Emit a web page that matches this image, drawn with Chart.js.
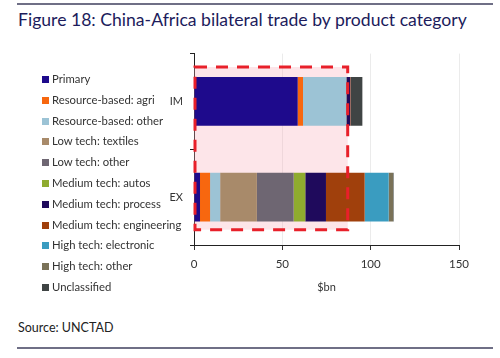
<!DOCTYPE html>
<html>
<head>
<meta charset="utf-8">
<script src="https://cdn.jsdelivr.net/npm/chart.js@4.4.1/dist/chart.umd.min.js"></script>
<style>
  body { margin: 0; background: #fff; width: 500px; height: 358px; overflow: hidden; position: relative; font-family: Lato, "Open Sans", sans-serif; }
  .rule { position: absolute; left: 17px; width: 476px; height: 2px; background: #6f6f86; }
  #title { position: absolute; left: 18px; top: 9px; font-size: 17.6px; color: #1c1c5c; white-space: nowrap; }
  #wrap { position: absolute; left: 0; top: 40px; width: 500px; height: 260px; }
  #legend { position: absolute; left: 42px; top: 69px; font-size: 11.3px; color: #333; z-index: 2; }
  #legend div { height: 20.8px; line-height: 20.8px; white-space: nowrap; }
  #legend span { display: inline-block; width: 7px; height: 7px; margin-right: 3px; vertical-align: 0px; }
  #source { position: absolute; left: 18px; top: 320px; font-size: 12.5px; color: #222; }
</style>
</head>
<body>
<div class="rule" style="top:3px"></div>
<div id="title">Figure 18: China-Africa bilateral trade by product category</div>
<div id="wrap"><canvas id="tradeChart"></canvas></div>
<div id="legend"></div>
<div id="source">Source: UNCTAD</div>
<div class="rule" style="top:347px"></div>
<script>
// Categorias e séries (valores em $bn)
const categories = ['IM', 'EX'];

const primary        = [58.7, 3.4];
const resAgri        = [3.0, 5.7];
const resOther       = [24.4, 5.7];
const lowTextiles    = [0, 20.8];
const lowOther       = [0.3, 20.8];
const medAutos       = [0, 6.6];
const medProcess     = [2.0, 11.7];
const medEngineering = [0.3, 21.9];
const hiElectronic   = [0, 13.6];
const hiOther        = [0, 2.5];
const unclassified   = [6.6, 0.3];

const seriesNames = [
  'Primary', 'Resource-based: agri', 'Resource-based: other', 'Low tech: textiles',
  'Low tech: other', 'Medium tech: autos', 'Medium tech: process', 'Medium tech: engineering',
  'High tech: electronic', 'High tech: other', 'Unclassified'
];
const seriesValues = [
  primary, resAgri, resOther, lowTextiles, lowOther, medAutos,
  medProcess, medEngineering, hiElectronic, hiOther, unclassified
];
const seriesColors = [
  '#1e0a8c', '#f7670f', '#9cc3d5', '#a88a6a', '#6e6672', '#8fab2f',
  '#1f0a5c', '#a0400c', '#3a9cc0', '#7a7258', '#3f4444'
];

const xTicks = [0, 50, 100, 150];

// Caixa destacada (tracejado vermelho) em coordenadas de escala
const highlightX = [0, 87];
const highlightY = [-0.36, 1.34];

const highlightBox = {
  id: 'highlightBox',
  beforeDatasetsDraw(chart) {
    const { ctx, scales: { x, y } } = chart;
    const l = x.getPixelForValue(highlightX[0]), r = x.getPixelForValue(highlightX[1]);
    const t = y.getPixelForValue(highlightY[0]), b = y.getPixelForValue(highlightY[1]);
    ctx.save();
    ctx.fillStyle = 'rgba(248, 170, 182, 0.3)';
    ctx.fillRect(l, t, r - l, b - t);
    ctx.restore();
  },
  afterDatasetsDraw(chart) {
    const { ctx, scales: { x, y } } = chart;
    const l = x.getPixelForValue(highlightX[0]) + 1, r = x.getPixelForValue(highlightX[1]);
    const t = y.getPixelForValue(highlightY[0]), b = y.getPixelForValue(highlightY[1]);
    ctx.save();
    ctx.strokeStyle = '#e8202a';
    ctx.lineWidth = 3;
    ctx.setLineDash([12, 9]);
    ctx.strokeRect(l, t, r - l, b - t);
    ctx.restore();
  }
};

// Legenda HTML a partir dos arrays
const legendEl = document.getElementById('legend');
seriesNames.forEach((name, i) => {
  const row = document.createElement('div');
  const box = document.createElement('span');
  box.style.background = seriesColors[i];
  row.appendChild(box);
  row.appendChild(document.createTextNode(name));
  legendEl.appendChild(row);
});

const ctx = document.getElementById('tradeChart').getContext('2d');
new Chart(ctx, {
  type: 'bar',
  data: {
    labels: categories,
    datasets: seriesNames.map((name, i) => ({
      label: name,
      data: seriesValues[i],
      backgroundColor: seriesColors[i],
      borderWidth: 0,
      barPercentage: 0.51,
      categoryPercentage: 1
    }))
  },
  options: {
    indexAxis: 'y',
    responsive: true,
    maintainAspectRatio: false,
    animation: false,
    layout: { padding: { top: 12, right: 41, bottom: 6, left: 0 } },
    plugins: { legend: { display: false }, tooltip: { enabled: false } },
    scales: {
      x: {
        stacked: true,
        min: 0,
        max: 150,
        afterBuildTicks: s => { s.ticks = xTicks.map(v => ({ value: v })); },
        grid: { color: '#ebebeb', tickColor: '#333', tickLength: 5 },
        border: { color: '#222', width: 1 },
        ticks: { color: '#333', font: { family: 'Lato', size: 11.5 }, padding: 7 },
        title: { display: true, text: '$bn', color: '#333', font: { family: 'Lato', size: 11 }, padding: { top: 3, bottom: 0 } }
      },
      y: {
        stacked: true,
        afterFit: s => { s.width = 194; },
        grid: { drawOnChartArea: false, tickColor: '#222', tickLength: 4 },
        border: { color: '#222', width: 1 },
        ticks: { color: '#333', font: { family: 'Lato', size: 11 }, padding: 7 }
      }
    }
  },
  plugins: [highlightBox]
});
</script>
</body>
</html>
